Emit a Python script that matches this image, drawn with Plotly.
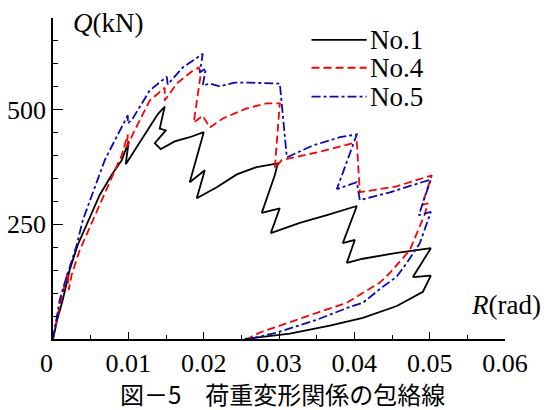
import plotly.graph_objects as go

# No.1 (black, solid)
r1 = [0, 0.00062, 0.00129, 0.00222, 0.00328, 0.00461, 0.00620, 0.00780, 0.00913, 0.01005,
      0.00965, 0.01032, 0.01151, 0.01284, 0.01390, 0.01483, 0.01417, 0.01497, 0.01351, 0.01430,
      0.01616, 0.01815, 0.02001, 0.01815, 0.02015, 0.01908, 0.02174, 0.02440, 0.02705, 0.02984,
      0.02944, 0.02771, 0.03010, 0.02891, 0.03276, 0.03635, 0.04033, 0.03847, 0.04006, 0.03900,
      0.04113, 0.04564, 0.05016, 0.04777, 0.05016, 0.04910, 0.04564, 0.04113, 0.03675, 0.03144,
      0.02745, 0.02546]
q1 = [0, 46, 85, 151, 205, 253, 314, 358, 390, 431,
      381, 398, 429, 464, 490, 507, 459, 455, 427, 414,
      431, 440, 451, 342, 368, 307, 331, 359, 375, 383,
      357, 275, 285, 231, 253, 270, 290, 209, 216, 166,
      175, 188, 198, 135, 138, 103, 72, 46, 29, 11.5,
      3, 0]

# No.4 (red, dashed)
r4 = [0, 0.00036, 0.00089, 0.00155, 0.00195, 0.00209, 0.00248, 0.00355, 0.00487, 0.00620,
      0.00793, 0.00913, 0.00993, 0.00980, 0.01072, 0.01284, 0.01483, 0.01483, 0.01643, 0.01855,
      0.01935, 0.01961, 0.01868, 0.01988, 0.02081, 0.02254, 0.02573, 0.02839, 0.03011, 0.02944,
      0.03037, 0.03502, 0.04033, 0.04073, 0.04564, 0.05029, 0.04896, 0.04976, 0.04936, 0.04737,
      0.04472, 0.04339, 0.04033, 0.03900, 0.03502, 0.02971, 0.02745, 0.02612]
q4 = [0, 31, 74, 118, 146, 107, 140, 194, 242, 292,
      357, 401, 446, 418, 451, 520, 548, 520, 557, 585,
      592, 577, 472, 487, 461, 481, 503, 514, 514, 372,
      390, 407, 429, 320, 333, 357, 292, 296, 272, 194,
      144, 123, 92, 79, 57, 27, 14, 3]

# No.5 (blue, dash-dot)
r5 = [0, 0.00036, 0.00089, 0.00155, 0.00222, 0.00315, 0.00395, 0.00514, 0.00687, 0.00820,
      0.00993, 0.00993, 0.01059, 0.01284, 0.01510, 0.01523, 0.01722, 0.01988, 0.01948, 0.02028,
      0.01988, 0.02081, 0.02214, 0.02413, 0.02612, 0.03011, 0.03104, 0.03449, 0.03808, 0.04033,
      0.03768, 0.04033, 0.04073, 0.04472, 0.05016, 0.04856, 0.05016, 0.04870, 0.04697, 0.04564,
      0.04378, 0.04113, 0.03941, 0.03675, 0.03502, 0.02971, 0.02612]
q5 = [0, 38, 85, 122, 157, 205, 259, 312, 390, 433,
      488, 470, 481, 542, 572, 555, 592, 622, 581, 590,
      553, 557, 551, 559, 559, 557, 396, 422, 440, 446,
      327, 342, 303, 320, 348, 270, 277, 209, 166, 136,
      114, 79, 70, 53, 42, 14, 0]

series_names = ["No.1", "No.4", "No.5"]
x_ticks = [0, 0.01, 0.02, 0.03, 0.04, 0.05, 0.06]
x_labels = ["0\u00a0\u00a0", "0.01", "0.02", "0.03", "0.04", "0.05", "0.06"]
y_ticks = [250, 500]
y_labels = ["250", "500"]

serif = "Tinos, Liberation Serif, FreeSerif, DejaVu Serif"
styles = [dict(color="black", width=1.8, dash="solid"),
          dict(color="#ff0000", width=1.8, dash="8px,4px"),
          dict(color="#0a0ab4", width=1.8, dash="9px,3px,3px,3px")]

fig = go.Figure()
for xs, ys, nm, st in zip([r1, r4, r5], [q1, q4, q5], series_names, styles):
    fig.add_trace(go.Scatter(x=xs, y=ys, mode="lines", name=nm, line=st,
                             showlegend=False))

annotations = [
    dict(text="<i>Q</i>(kN)", xref="paper", yref="paper", x=0.04, y=0.985,
         xanchor="left", yanchor="middle", showarrow=False,
         font=dict(family=serif, size=27)),
    dict(text="<i>R</i>(rad)", xref="paper", yref="paper", x=1.085, y=0.107,
         xanchor="right", yanchor="middle", showarrow=False,
         font=dict(family=serif, size=27)),
    dict(text="図－5　荷重変形関係の包絡線", xref="paper", yref="paper",
         x=0.508, y=-0.170, xanchor="center", yanchor="middle", showarrow=False,
         font=dict(family="Noto Sans CJK JP", size=24)),
]
shapes = []
leg_y = [0.932, 0.845, 0.755]
for nm, st, ly in zip(series_names, styles, leg_y):
    shapes.append(dict(type="line", xref="paper", yref="paper",
                       x0=0.572, x1=0.694, y0=ly, y1=ly,
                       line=dict(color=st["color"], width=st["width"], dash=st["dash"])))
    annotations.append(dict(text=nm, xref="paper", yref="paper", x=0.697, y=ly,
                            xanchor="left", yanchor="middle", showarrow=False,
                            font=dict(family=serif, size=27)))

fig.update_layout(
    width=544, height=410,
    margin=dict(l=53, r=39, t=18, b=71, autoexpand=False),
    paper_bgcolor="white", plot_bgcolor="white",
    font=dict(family=serif, size=26, color="black"),
    showlegend=False,
    xaxis=dict(range=[0, 0.06], showgrid=False, zeroline=False, automargin=False,
               showline=True, linecolor="black", linewidth=1.5,
               tickmode="array", tickvals=x_ticks, ticktext=x_labels,
               ticks="inside", ticklen=7, tickwidth=1.2, tickcolor="black",
               minor=dict(tickmode="linear", tick0=0, dtick=0.005, ticks="inside",
                          ticklen=4, tickwidth=1.2, tickcolor="black"),
               tickfont=dict(family=serif, size=26)),
    yaxis=dict(range=[0, 700], showgrid=False, zeroline=False, automargin=False,
               showline=True, linecolor="black", linewidth=1.5,
               tickmode="array", tickvals=y_ticks, ticktext=y_labels,
               ticks="inside", ticklen=10, tickwidth=1.2, tickcolor="black",
               minor=dict(tickmode="linear", tick0=0, dtick=50, ticks="inside",
                          ticklen=5, tickwidth=1.2, tickcolor="black"),
               tickfont=dict(family=serif, size=26)),
    annotations=annotations,
    shapes=shapes,
)

fig.write_html("out.html", config={"displayModeBar": False},
               post_script="document.body.style.margin='0';document.body.style.padding='0';")
